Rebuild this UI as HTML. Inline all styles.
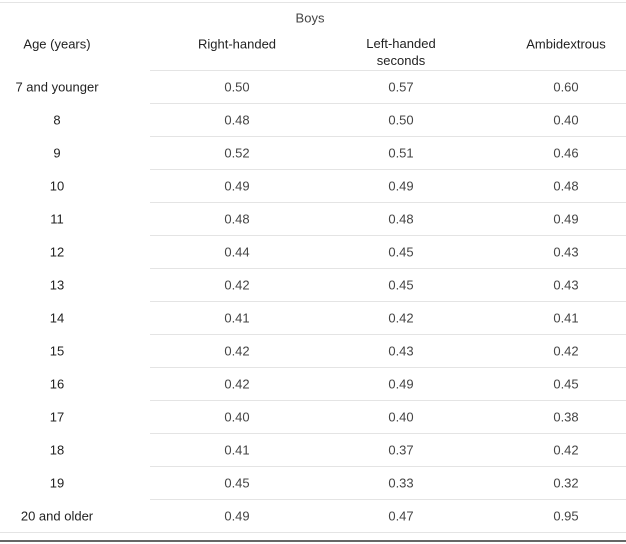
<!DOCTYPE html>
<html><head><meta charset="utf-8"><style>
body{margin:0;width:626px;height:544px;background:#fff;font-family:"Liberation Sans",Arial,sans-serif;font-size:13px;color:#222;position:relative;overflow:hidden}
.t{position:absolute;transform:translate(-50%,-50%);white-space:nowrap;text-align:center;line-height:17px}
.l{position:absolute;height:1px;background:#e4e4e4}
</style></head><body>
<div class="l" style="left:0;top:2px;width:626px"></div>
<div class="t" style="left:310px;top:18px;color:#444">Boys</div>
<div class="t" style="left:57px;top:44px">Age (years)</div>
<div class="t" style="left:237px;top:44px">Right-handed</div>
<div class="t" style="left:401px;top:52px">Left-handed<br>seconds</div>
<div class="t" style="left:566px;top:44px">Ambidextrous</div>
<div class="l" style="left:150px;top:70px;width:476px"></div>
<div id="rows"></div>
<div class="l" style="left:0;top:532px;width:626px"></div>
<div style="position:absolute;left:0;top:540px;width:626px;height:2px;background:#666"></div>
<script>
const ages=["7 and younger","8","9","10","11","12","13","14","15","16","17","18","19","20 and older"];
const rightHanded=["0.50","0.48","0.52","0.49","0.48","0.44","0.42","0.41","0.42","0.42","0.40","0.41","0.45","0.49"];
const leftHanded=["0.57","0.50","0.51","0.49","0.48","0.45","0.45","0.42","0.43","0.49","0.40","0.37","0.33","0.47"];
const ambidextrous=["0.60","0.40","0.46","0.48","0.49","0.43","0.43","0.41","0.42","0.45","0.38","0.42","0.32","0.95"];
const root=document.getElementById('rows');
ages.forEach((a,i)=>{
  const y=87+33*i;
  const cells=[[a,57,'age-cell','#222'],[rightHanded[i],237,'right-handed-cell','#444'],[leftHanded[i],401,'left-handed-cell','#444'],[ambidextrous[i],566,'ambidextrous-cell','#444']];
  cells.forEach(c=>{
    const d=document.createElement('div');
    d.className='t';
    d.style.left=c[1]+'px';d.style.top=y+'px';d.style.color=c[3];
    d.textContent=c[0];
    
    
    root.appendChild(d);
  });
  if(i<ages.length-1){
    const l=document.createElement('div');
    l.className='l';
    l.style.left='150px';l.style.width='476px';l.style.top=(y+16)+'px';
    
    
    root.appendChild(l);
  }
});
</script>
</body></html>
